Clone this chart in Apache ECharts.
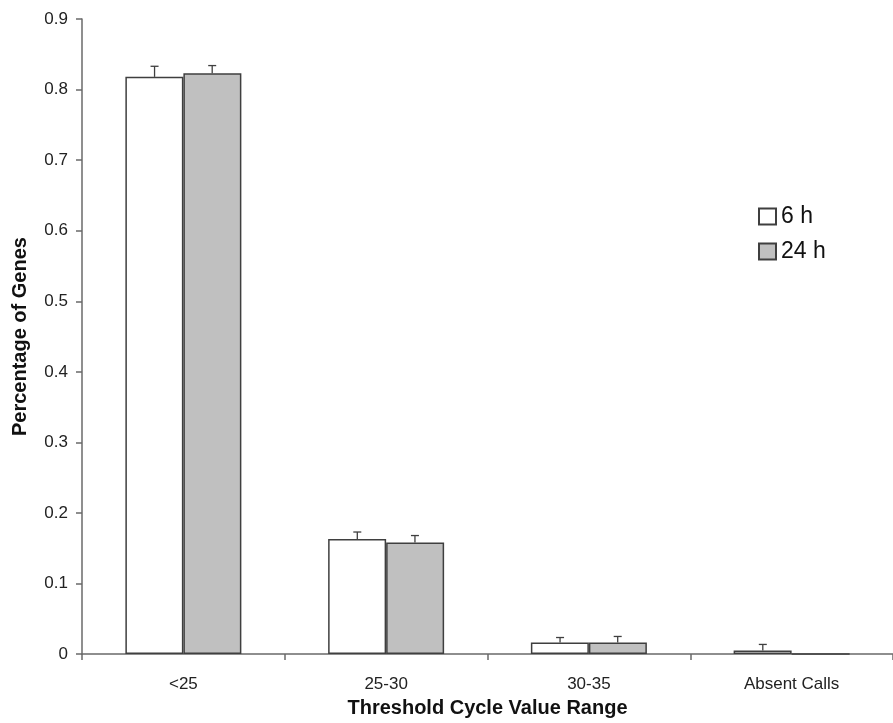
<!DOCTYPE html>
<html>
<head>
<meta charset="utf-8">
<script src="https://cdn.jsdelivr.net/npm/echarts@6/dist/echarts.min.js"></script>
<style>html,body{margin:0;padding:0;background:#fff}#c{width:893px;height:723px}</style>
</head>
<body>
<div id="c"></div>
<script>
var categories = ['<25', '25-30', '30-35', 'Absent Calls'];
var seriesNames = ['6 h', '24 h'];
var values6h = [0.818, 0.163, 0.0165, 0.0052];
var values24h = [0.823, 0.158, 0.0165, 0];
var err6h = [0.015, 0.010, 0.007, 0.0085];
var err24h = [0.011, 0.010, 0.0085, 0];
var yTicks = [0, 0.1, 0.2, 0.3, 0.4, 0.5, 0.6, 0.7, 0.8, 0.9];

var chart = echarts.init(document.getElementById('c'), null, {renderer: 'canvas'});
var edge = '#3f3f3f';
var BAR_FRAC = 58 / 204;

function errSeries(vals, errs, side) {
  var data = vals.map(function (v, i) { return [i, v, errs[i]]; });
  return {
    type: 'custom',
    silent: true,
    z: 5,
    renderItem: function (params, api) {
      var i = api.value(0), v = api.value(1), e = api.value(2);
      if (!e) return null;
      var band = api.size([1, 0])[0];
      var off = side * band * BAR_FRAC / 2;
      var p0 = api.coord([i, v]);
      var p1 = api.coord([i, v + e]);
      var x = p0[0] + off;
      var st = {stroke: edge, lineWidth: 1.3};
      return {
        type: 'group',
        children: [
          {type: 'line', shape: {x1: x, y1: p0[1], x2: x, y2: p1[1]}, style: st},
          {type: 'line', shape: {x1: x - 4, y1: p1[1], x2: x + 4, y2: p1[1]}, style: st}
        ]
      };
    },
    data: data
  };
}

chart.setOption({
  animation: false,
  backgroundColor: '#fff',
  textStyle: {fontFamily: 'Liberation Sans, Arial, sans-serif'},
  grid: {left: 82, top: 19, width: 817, bottom: 65, containLabel: false},
  legend: {
    data: seriesNames,
    orient: 'vertical',
    left: 753,
    top: 200,
    itemWidth: 17,
    itemHeight: 16,
    itemGap: 12,
    icon: 'rect',
    textStyle: {fontSize: 23, color: '#111', fontFamily: 'Liberation Sans, Arial, sans-serif'}
  },
  xAxis: {
    type: 'category',
    data: categories,
    name: 'Threshold Cycle Value Range',
    nameLocation: 'middle',
    nameGap: 42,
    nameTextStyle: {fontSize: 20, fontWeight: 'bold', color: '#111'},
    axisLine: {lineStyle: {color: '#6a6a6a', width: 1.5}},
    axisTick: {show: true, length: 6, inside: false, lineStyle: {color: '#6a6a6a', width: 1.5}},
    axisLabel: {fontSize: 17, color: '#222', margin: 22}
  },
  yAxis: {
    type: 'value',
    min: 0,
    max: 0.9,
    interval: 0.1,
    name: 'Percentage of Genes',
    nameLocation: 'middle',
    nameRotate: 90,
    nameGap: 52,
    nameTextStyle: {fontSize: 20, fontWeight: 'bold', color: '#111'},
    axisLine: {show: true, lineStyle: {color: '#6a6a6a', width: 1.5}},
    axisTick: {show: true, length: 6, lineStyle: {color: '#6a6a6a', width: 1.5}},
    splitLine: {show: false},
    axisLabel: {
      fontSize: 17, color: '#222', margin: 14,
      formatter: function (v) {
        for (var k = 0; k < yTicks.length; k++) {
          if (Math.abs(yTicks[k] - v) < 1e-9) return String(yTicks[k]);
        }
        return '';
      }
    }
  },
  series: [
    {
      name: seriesNames[0], type: 'bar', data: values6h,
      barWidth: 58, barGap: '0%',
      itemStyle: {color: '#ffffff', borderColor: edge, borderWidth: 1.5}
    },
    {
      name: seriesNames[1], type: 'bar', data: values24h,
      barWidth: 58, barGap: '0%',
      itemStyle: {color: '#c0c0c0', borderColor: edge, borderWidth: 1.5}
    },
    errSeries(values6h, err6h, -1),
    errSeries(values24h, err24h, 1)
  ]
});
</script>
</body>
</html>
